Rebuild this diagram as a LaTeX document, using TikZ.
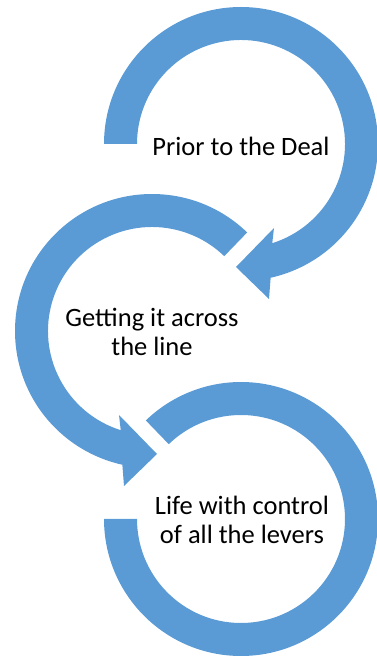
\documentclass[tikz,border=0pt]{standalone}
\usepackage{fontspec}
\setmainfont{Carlito}
\usetikzlibrary{calc}
\definecolor{arrowblue}{RGB}{91,155,213}
\begin{document}
\begin{tikzpicture}[x=1pt,y=1pt,
  ring/.style={fill=arrowblue,draw=none},
  label/.style={align=center,font=\fontsize{26.5}{29}\selectfont,text=black,inner sep=0pt}]
\useasboundingbox (0,0) rectangle (376,657);
\coordinate (c1) at (241,513);
\coordinate (c2) at (152,326);
\coordinate (c3) at (241,138);
% top arrow
\fill[ring] ($(c1)+(180:137)$) arc[start angle=180,end angle=-77.5,radius=137]
  -- ($(c1)+(28,-155)$) -- ($(c1)+(-5,-123)$) -- ($(c1)+(33,-84)$)
  -- ($(c1)+(-72.5:104)$) arc[start angle=-72.5,end angle=180,radius=104] -- cycle;
% middle arrow
\fill[ring] ($(c2)+(46:137)$) arc[start angle=46,end angle=257.5,radius=137]
  -- ($(c2)+(-28,-155)$) -- ($(c2)+(5,-123)$) -- ($(c2)+(-33,-84)$)
  -- ($(c2)+(252.5:104)$) arc[start angle=252.5,end angle=46,radius=104] -- cycle;
% bottom ring
\fill[ring] ($(c3)+(180:137)$) arc[start angle=180,end angle=494,radius=137]
  -- ($(c3)+(134:104)$) arc[start angle=134,end angle=-180,radius=104] -- cycle;
\node[label] (t1) at ($(c1)+(0,-2)$) {Prior to the Deal};
\node[label] (t2) at ($(c2)+(0,-1)$) {Getting it across\\the line};
\node[label] (t3) at ($(c3)+(1,-1)$) {Life with control\\of all the levers};
\end{tikzpicture}
\end{document}
